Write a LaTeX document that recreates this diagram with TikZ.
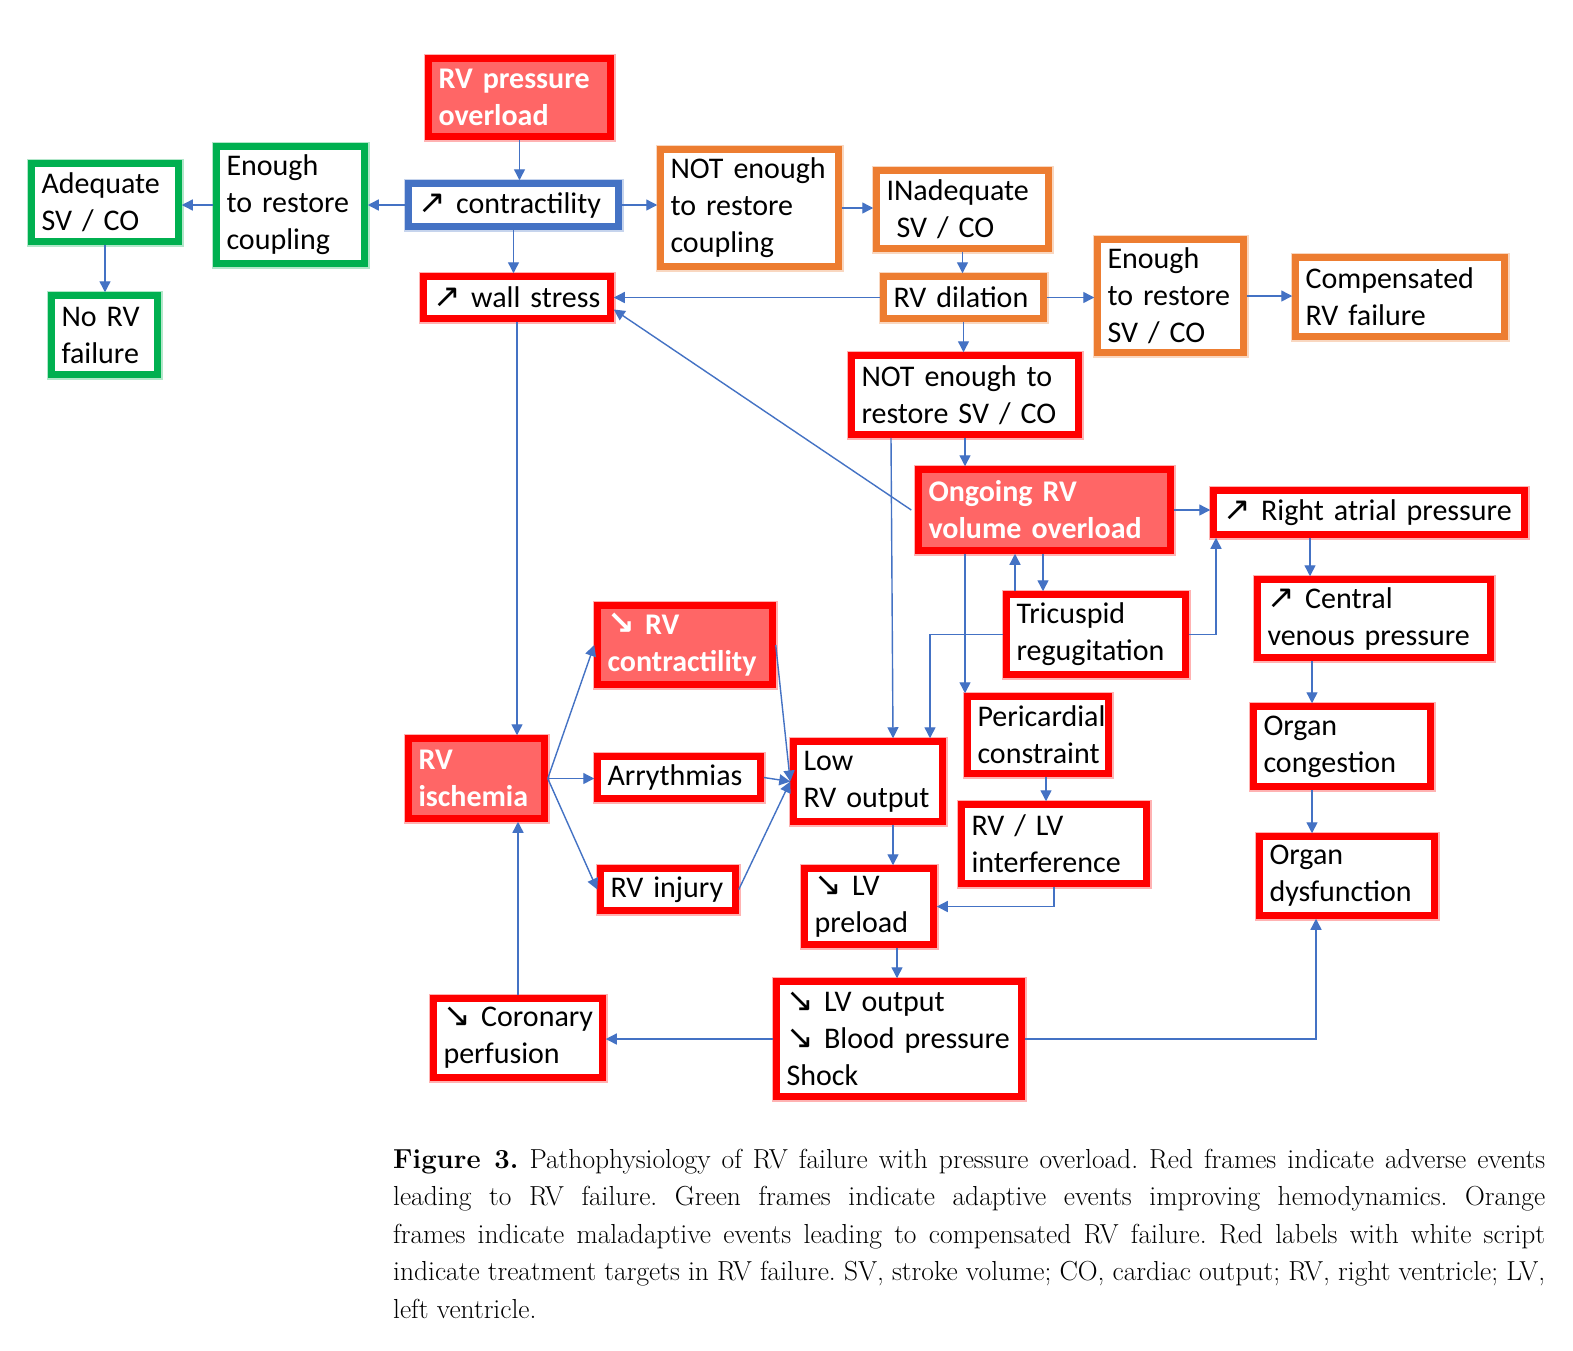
\documentclass[tikz,border=0pt]{standalone}
\usepackage{fontspec}
\usetikzlibrary{arrows.meta,calc}
\newfontfamily\calfont{Carlito}
\newfontfamily\symfont{DejaVu Sans}
\newcommand\nea{{\symfont\fontsize{33}{30}\selectfont ↗}}
\newcommand\sea{{\symfont\fontsize{33}{30}\selectfont ↘}}
\definecolor{fr}{HTML}{FF0000}
\definecolor{ff}{HTML}{FF6666}
\definecolor{fo}{HTML}{ED7D31}
\definecolor{fg}{HTML}{00B050}
\definecolor{fb}{HTML}{4472C4}
\definecolor{ln}{HTML}{4472C4}
\tikzset{
  frame/.style={rectangle, draw=#1, line width=6.5pt,
    preaction={draw=#1, draw opacity=0.3, line width=10pt},
    inner xsep=10pt, inner ysep=0pt, align=left, fill=white,
    font=\calfont\fontsize{30}{37}\selectfont},
  redbox/.style={frame=fr},
  orbox/.style={frame=fo},
  grbox/.style={frame=fg},
  blbox/.style={frame=fb},
  target/.style={frame=fr, fill=ff, text=white,
    font=\calfont\bfseries\fontsize{30}{37}\selectfont},
  conn/.style={draw=ln, line width=1.4pt, -{Triangle[width=11pt,length=11pt]}},
  capline/.style={anchor=base west, inner sep=0pt, font=\frenchspacing\fontsize{27.5}{37.5}\selectfont}
}
\newcommand\bx[7]{%
  \pgfmathsetmacro\bxW{#5-#3-7}%
  \pgfmathsetmacro\bxH{#6-#4-7}%
  \pgfmathsetmacro\bxT{\bxW-20}%
  \node[#2, minimum width=\bxW pt, minimum height=\bxH pt, text width=\bxT pt] (#1) at ({(#3+#5)/2},{(#4+#6)/2}) {#7};}
\begin{document}
\begin{tikzpicture}[x=1pt,y=-1pt]
\useasboundingbox[fill=white] (0,0) rectangle (1573,1350);
% boxes
\bx{rvpo}{target}{425}{55}{614}{140}{RV pressure\\overload}
\bx{contr}{blbox}{405}{180}{622}{230}{\mbox{\nea\ contractility}}
\bx{encoup}{grbox}{213}{143}{368}{267}{Enough\\to restore\\coupling}
\bx{adeq}{grbox}{28}{160}{182}{245}{Adequate\\SV / CO}
\bx{norv}{grbox}{48}{292}{161}{378}{No RV\\failure}
\bx{notcoup}{orbox}{657}{146}{842}{270}{NOT enough\\to restore\\coupling}
\bx{inadeq}{orbox}{873}{167}{1052}{252}{INadequate\\\ SV / CO}
\bx{dil}{orbox}{880}{273}{1047}{322}{RV dilation}
\bx{ensv}{orbox}{1094}{236}{1247}{356}{Enough\\to restore\\SV / CO}
\bx{comp}{orbox}{1292}{254}{1508}{340}{Compensated\\RV failure}
\bx{wall}{redbox}{420}{273}{614}{322}{\mbox{\nea\ wall stress}}
\bx{notsv}{redbox}{848}{352}{1082}{438}{NOT enough to\\restore SV / CO}
\bx{ong}{target}{915}{466}{1174}{554}{Ongoing RV\\volume overload}
\bx{rap}{redbox}{1210}{487}{1528}{538}{\mbox{\nea\ Right atrial pressure}}
\bx{tric}{redbox}{1003}{591}{1189}{678}{Tricuspid\\regugitation}
\bx{cvp}{redbox}{1254}{576}{1494}{661}{\mbox{\nea\ Central}\\venous pressure}
\bx{rvc}{target}{594}{602}{776}{688}{\mbox{\sea\ RV}\\contractility}
\bx{isch}{target}{405}{735}{548}{822}{RV\\ischemia}
\bx{arr}{redbox}{594}{753}{764}{802}{Arrythmias}
\bx{low}{redbox}{790}{738}{946}{825}{Low\\RV output}
\bx{peri}{redbox}{964}{693}{1112}{777}{Pericardial\\constraint}
\bx{orgc}{redbox}{1250}{703}{1434}{790}{Organ\\congestion}
\bx{rvlv}{redbox}{958}{801}{1150}{887}{RV / LV\\interference}
\bx{inj}{redbox}{597}{865}{739}{914}{RV injury}
\bx{lvp}{redbox}{801}{865}{937}{948}{\mbox{\sea\ LV}\\preload}
\bx{orgd}{redbox}{1256}{833}{1438}{919}{Organ\\dysfunction}
\bx{cor}{redbox}{430}{995}{606}{1081}{\mbox{\sea\ Coronary}\\perfusion}
\bx{lvo}{redbox}{773}{978}{1025}{1100}{\mbox{\sea\ LV output}\\\mbox{\sea\ Blood pressure}\\Shock}
% connectors
\draw[conn] (rvpo.south) -- (rvpo.south |- contr.north);
\draw[conn] (contr.west) -- (contr.west -| encoup.east);
\draw[conn] (encoup.west) -- (encoup.west -| adeq.east);
\draw[conn] (adeq.south) -- (adeq.south |- norv.north);
\draw[conn] (contr.east) -- (contr.east -| notcoup.west);
\draw[conn] (notcoup.east) -- (notcoup.east -| inadeq.west);
\draw[conn] (contr.south) -- (contr.south |- wall.north);
\draw[conn] (inadeq.south) -- (inadeq.south |- dil.north);
\draw[conn] (dil.west) -- (dil.west -| wall.east);
\draw[conn] (dil.east) -- (dil.east -| ensv.west);
\draw[conn] (ensv.east) -- (ensv.east -| comp.west);
\draw[conn] (dil.south) -- (dil.south |- notsv.north);
\draw[conn] (notsv.south) -- (notsv.south |- ong.north);
\draw[conn] ([xshift=-4pt]ong.west) -- ([yshift=-12pt]wall.east);
\draw[conn] ([xshift=-74pt]notsv.south) -- ([xshift=25pt]low.north);
\draw[conn] (ong.east) -- (ong.east -| rap.west);
\draw[conn] ([xshift=-81pt]tric.north) -- ([xshift=-81pt]tric.north |- ong.south);
\draw[conn] ([xshift=-53pt]tric.north |- ong.south) -- ([xshift=-53pt]tric.north);
\draw[conn] (notsv.south |- ong.south) -- (notsv.south |- peri.north);
\draw[conn] (tric.west) -| ([xshift=62pt]low.north);
\draw[conn] (tric.east) -| ([xshift=-153pt]rap.south);
\draw[conn] ([xshift=-59pt]rap.south) -- ([xshift=-59pt]rap.south |- cvp.north);
\draw[conn] ([xshift=-62pt]cvp.south) -- ([xshift=-62pt]cvp.south |- orgc.north);
\draw[conn] ([xshift=-30pt]orgc.south) -- ([xshift=-30pt]orgc.south |- orgd.north);
\draw[conn] (wall.south) -- (wall.south |- isch.north);
\draw[conn] (isch.east) -- (rvc.west);
\draw[conn] (isch.east) -- (isch.east -| arr.west);
\draw[conn] (isch.east) -- (inj.west);
\draw[conn] (rvc.east) -- (low.west);
\draw[conn] (arr.east) -- (low.west);
\draw[conn] (inj.east) -- (low.west);
\draw[conn] ([xshift=25pt]low.south) -- ([xshift=25pt]low.south |- lvp.north);
\draw[conn] ([xshift=8pt]peri.south) -- ([xshift=8pt]peri.south |- rvlv.north);
\draw[conn] (rvlv.south) |- (lvp.east);
\draw[conn] ([xshift=28pt]lvp.south) -- ([xshift=28pt]lvp.south |- lvo.north);
\draw[conn] (lvo.west) -- (lvo.west -| cor.east);
\draw[conn] (lvo.east) -| ([xshift=-31pt]orgd.south);
\draw[conn] (cor.north) -- (cor.north |- isch.south);
% caption
\node[capline] (c1) at (393,1168) {\makebox[1152pt][s]{\textbf{Figure 3.} Pathophysiology of RV failure with pressure overload. Red frames indicate adverse events}};
\node[capline] (c2) at (393,1205.5) {\makebox[1152pt][s]{leading to RV failure. Green frames indicate adaptive events improving hemodynamics. Orange}};
\node[capline] (c3) at (393,1243) {\makebox[1152pt][s]{frames indicate maladaptive events leading to compensated RV failure. Red labels with white script}};
\node[capline] (c4) at (393,1280.5) {\makebox[1152pt][s]{indicate treatment targets in RV failure. SV, stroke volume; CO, cardiac output; RV, right ventricle; LV,}};
\node[capline] (c5) at (393,1318) {left ventricle.};
\end{tikzpicture}
\end{document}
